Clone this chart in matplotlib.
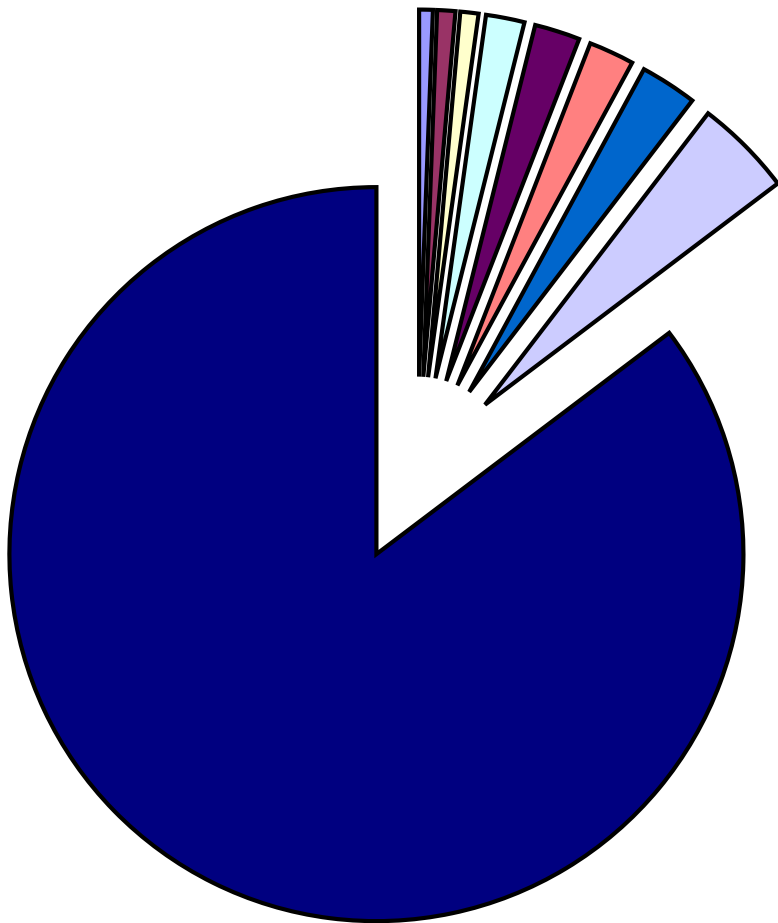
import matplotlib
matplotlib.use("Agg")
import matplotlib.pyplot as plt

# slice shares in percent, clockwise from 12 o'clock
values = [0.6, 0.8, 0.8, 1.7, 2.0, 2.0, 2.5, 4.3, 85.3]
colors = ['#9999FF', '#993366', '#FFFFCC', '#CCFFFF', '#660066',
          '#FF8080', '#0066CC', '#CCCCFF', '#000080']
explode = [0.26] * 8 + [0.25]

fig = plt.figure(figsize=(7.78, 9.23), dpi=100)
ax = fig.add_axes([0, 0, 1, 1])

ax.pie(values, colors=colors, explode=explode, startangle=90,
       counterclock=False, radius=1.0,
       wedgeprops=dict(edgecolor='black', linewidth=3.0, joinstyle='miter'))

# pixel layout: centre at (417, 471), radius 367 px
ax.set_xlim(-417.3 / 367, (778 - 417.3) / 367)
ax.set_ylim(-(923 - 472) / 367, 472 / 367)
ax.set_aspect('equal', adjustable='datalim')
ax.axis('off')

fig.savefig('out.png', dpi=100, facecolor='white')
